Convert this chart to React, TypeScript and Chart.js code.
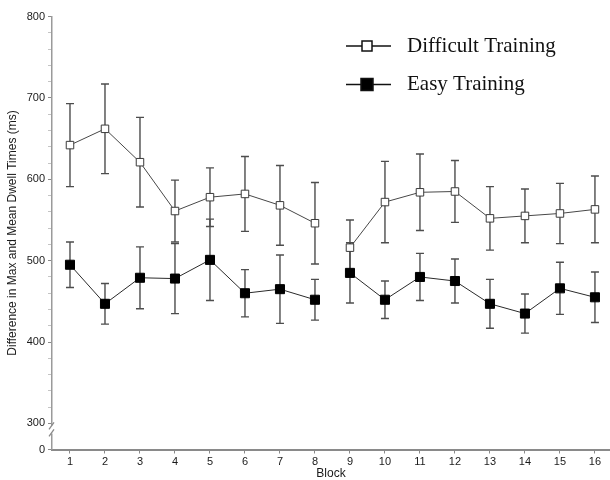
import { useEffect, useRef } from "react";
import { Chart, registerables } from "chart.js";

Chart.register(...registerables);

// Block numbers along the x axis
const blocks = [1, 2, 3, 4, 5, 6, 7, 8, 9, 10, 11, 12, 13, 14, 15, 16];

// Mean difference between max and mean dwell times (ms), with error half-widths
const difficultMeans = [642, 662, 621, 561, 578, 582, 568, 546, 516, 572, 584, 585, 552, 555, 558, 563];
const difficultErrors = [51, 55, 55, 38, 36, 46, 49, 50, 34, 50, 47, 38, 39, 33, 37, 41];
const easyMeans = [495, 447, 479, 478, 501, 460, 465, 452, 485, 452, 480, 475, 447, 435, 466, 455];
const easyErrors = [28, 25, 38, 43, 50, 29, 42, 25, 37, 23, 29, 27, 30, 24, 32, 31];

// Blocks 1-8 and 9-16 are separate sessions: the line breaks between them
const sessionBreakAfter = 8;

// y axis: labelled ticks, minor tick step and the value that stands for "0" below the axis break
const yMajorTicks = [300, 400, 500, 600, 700, 800];
const yMinorStep = 20;
const yBreakFloor = 268;
const yZeroLabel = "0";

const seriesNames = ["Difficult Training", "Easy Training"];

const SANS = '"Liberation Sans", Arial, Helvetica, sans-serif';
const SERIF = '"Liberation Serif", "Times New Roman", serif';

function toPoints(values: number[]) {
  const pts: { x: number; y: number | null }[] = [];
  blocks.forEach((b, i) => {
    pts.push({ x: b, y: values[i] });
    if (b === sessionBreakAfter) pts.push({ x: b + 0.5, y: null });
  });
  return pts;
}

const errorBarPlugin = {
  id: "errorBars",
  beforeDatasetsDraw(chart: any) {
    const { ctx } = chart;
    const xs = chart.scales.x;
    const ys = chart.scales.y;
    const sets = [
      { m: difficultMeans, e: difficultErrors },
      { m: easyMeans, e: easyErrors },
    ];
    ctx.save();
    ctx.strokeStyle = "#4d4d4d";
    ctx.lineWidth = 1.4;
    sets.forEach(({ m, e }) => {
      blocks.forEach((b, i) => {
        const x = xs.getPixelForValue(b);
        const yTop = ys.getPixelForValue(m[i] + e[i]);
        const yBot = ys.getPixelForValue(m[i] - e[i]);
        const cap = 4;
        ctx.beginPath();
        ctx.moveTo(x, yTop);
        ctx.lineTo(x, yBot);
        ctx.moveTo(x - cap, yTop);
        ctx.lineTo(x + cap, yTop);
        ctx.moveTo(x - cap, yBot);
        ctx.lineTo(x + cap, yBot);
        ctx.stroke();
      });
    });
    ctx.restore();
  },
};

const axisBreakPlugin = {
  id: "axisBreak",
  afterDraw(chart: any) {
    const { ctx } = chart;
    const ys = chart.scales.y;
    const x = chart.chartArea.left;
    const yHi = ys.getPixelForValue(300) + 2;
    const yLo = yHi + 8;
    ctx.save();
    ctx.fillStyle = "#fff";
    ctx.fillRect(x - 2, yHi, 4, yLo - yHi);
    ctx.strokeStyle = "#8a8a8a";
    ctx.lineWidth = 1.3;
    ctx.beginPath();
    ctx.moveTo(x - 3, yHi + 4);
    ctx.lineTo(x + 2, yHi - 3);
    ctx.moveTo(x - 3, yLo + 3);
    ctx.lineTo(x + 2, yLo - 4);
    ctx.stroke();
    ctx.restore();
  },
};

const legendPlugin = {
  id: "lineLegend",
  afterDraw(chart: any) {
    const { ctx } = chart;
    const rows = [
      { y: 46, fill: "#fff", side: 10 },
      { y: 84.5, fill: "#000", side: 12 },
    ];
    ctx.save();
    rows.forEach((r, i) => {
      ctx.strokeStyle = "#111";
      ctx.lineWidth = 1.5;
      ctx.beginPath();
      ctx.moveTo(346, r.y);
      ctx.lineTo(391, r.y);
      ctx.stroke();
      ctx.fillStyle = r.fill;
      ctx.fillRect(367 - r.side / 2, r.y - r.side / 2, r.side, r.side);
      ctx.lineWidth = 1.5;
      ctx.strokeRect(367 - r.side / 2, r.y - r.side / 2, r.side, r.side);
      ctx.fillStyle = "#111";
      ctx.font = `21px ${SERIF}`;
      ctx.textBaseline = "middle";
      ctx.textAlign = "left";
      ctx.fillText(seriesNames[i], 407, r.y);
    });
    ctx.restore();
  },
};

export default function App() {
  const canvasRef = useRef<HTMLCanvasElement | null>(null);

  useEffect(() => {
    if (!canvasRef.current) return;
    const chart = new Chart(canvasRef.current, {
      type: "line",
      data: {
        datasets: [
          {
            label: seriesNames[0],
            data: toPoints(difficultMeans),
            borderColor: "#474747",
            borderWidth: 1,
            pointStyle: "rect",
            pointRadius: 5.3,
            pointBackgroundColor: "#fff",
            pointBorderColor: "#3a3a3a",
            pointBorderWidth: 1,
            spanGaps: false,
          },
          {
            label: seriesNames[1],
            data: toPoints(easyMeans),
            borderColor: "#2a2a2a",
            borderWidth: 1,
            pointStyle: "rect",
            pointRadius: 6.4,
            pointBackgroundColor: "#000",
            pointBorderColor: "#000",
            pointBorderWidth: 1,
            spanGaps: false,
          },
        ],
      },
      options: {
        responsive: false,
        animation: false,
        devicePixelRatio: 1,
        layout: { autoPadding: false, padding: { top: 16.5, right: 0, bottom: 0, left: 0 } },
        plugins: {
          legend: { display: false },
          tooltip: { enabled: false },
        },
        scales: {
          x: {
            type: "linear",
            min: 0.486,
            max: 16.43,
            afterBuildTicks(scale: any) {
              scale.ticks = blocks.map((v) => ({ value: v }));
            },
            afterFit(scale: any) {
              scale.height = 30.5;
              scale.paddingLeft = 0;
              scale.paddingRight = 0;
            },
            border: { display: true, color: "#8a8a8a", width: 2 },
            grid: {
              drawOnChartArea: false,
              drawTicks: true,
              tickLength: 4,
              tickColor: "#8a8a8a",
              tickWidth: 1,
            },
            ticks: {
              autoSkip: false,
              maxRotation: 0,
              padding: 2,
              color: "#1a1a1a",
              font: { family: SANS, size: 11 },
              callback: (v: any) => String(v),
            },
            title: {
              display: true,
              text: "Block",
              color: "#1a1a1a",
              font: { family: SANS, size: 12, lineHeight: 1 },
              padding: { top: 0, bottom: 0 },
            },
          },
          y: {
            type: "linear",
            min: yBreakFloor,
            max: 800,
            afterBuildTicks(scale: any) {
              const t = [{ value: yBreakFloor }];
              for (let v = yMajorTicks[0]; v <= yMajorTicks[yMajorTicks.length - 1]; v += yMinorStep) {
                t.push({ value: v });
              }
              scale.ticks = t;
            },
            afterFit(scale: any) {
              scale.width = 52;
              scale.paddingTop = 0;
              scale.paddingBottom = 0;
            },
            border: { display: true, color: "#9a9a9a", width: 1.5 },
            grid: {
              drawOnChartArea: false,
              drawTicks: true,
              tickLength: 4,
              tickWidth: 1,
              tickColor: (c: any) =>
                c.tick && (yMajorTicks.includes(c.tick.value) || c.tick.value === yBreakFloor)
                  ? "#8a8a8a"
                  : "#c4c4c4",
            },
            ticks: {
              autoSkip: false,
              padding: 3,
              color: "#1a1a1a",
              font: { family: SANS, size: 11 },
              callback: (v: any) =>
                v === yBreakFloor ? yZeroLabel : yMajorTicks.includes(v) ? String(v) : "",
            },
            title: {
              display: true,
              text: "Difference in Max and Mean Dwell Times (ms)",
              color: "#1a1a1a",
              font: { family: SANS, size: 12 },
              padding: { top: 5, bottom: 0 },
            },
          },
        },
      },
      plugins: [errorBarPlugin, axisBreakPlugin, legendPlugin],
    } as any);
    return () => chart.destroy();
  }, []);

  return (
    <div style={{ position: "absolute", left: 0, top: 0, width: 610, height: 480, background: "#fff" }}>
      <canvas ref={canvasRef} width={610} height={480} />
    </div>
  );
}
